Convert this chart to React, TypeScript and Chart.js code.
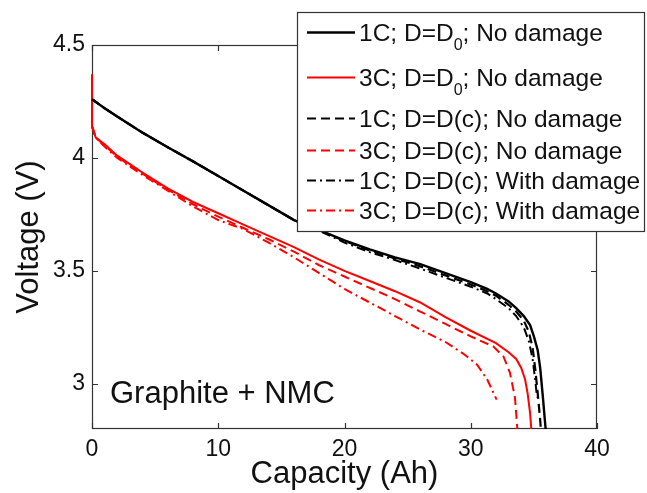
import React, { useEffect, useRef } from 'react';
import { Chart, registerables } from 'chart.js';

Chart.register(...registerables);

// ---- Data ----
const cap1CD0 = [0, 1, 2, 4, 6, 8, 10, 12, 14, 16, 18, 20, 22, 24, 26, 28, 30, 31.3, 32, 33, 33.6, 34.2, 34.7, 35.0, 35.3, 35.5, 35.7, 35.9, 36.0];
const volt1CD0 = [4.26, 4.22, 4.183, 4.112, 4.047, 3.985, 3.92, 3.855, 3.79, 3.725, 3.68, 3.635, 3.595, 3.56, 3.53, 3.49, 3.45, 3.42, 3.40, 3.365, 3.335, 3.30, 3.26, 3.21, 3.15, 3.07, 2.95, 2.82, 2.76];

const cap3CD0 = [0, 0, 0.3, 1, 2, 4, 6, 8, 10, 12, 14, 16, 18, 20, 22, 24, 26, 28, 30, 32, 33, 33.6, 34.0, 34.3, 34.5, 34.7, 34.85];
const volt3CD0 = [4.37, 4.14, 4.09, 4.06, 4.01, 3.935, 3.865, 3.805, 3.755, 3.705, 3.655, 3.605, 3.55, 3.5, 3.455, 3.41, 3.36, 3.295, 3.235, 3.18, 3.14, 3.11, 3.07, 3.02, 2.96, 2.87, 2.76];

const cap1CDc = [0, 1, 2, 4, 6, 8, 10, 12, 14, 16, 18, 20, 22, 24, 26, 28, 30, 31.3, 32, 33, 33.6, 34.2, 34.6, 34.9, 35.1, 35.3, 35.5, 35.6];
const volt1CDc = [4.26, 4.22, 4.183, 4.112, 4.047, 3.985, 3.92, 3.855, 3.79, 3.725, 3.68, 3.633, 3.59, 3.555, 3.52, 3.48, 3.44, 3.41, 3.39, 3.35, 3.32, 3.28, 3.23, 3.16, 3.07, 2.96, 2.84, 2.76];

const cap3CDc = [0, 0.3, 1, 2, 4, 6, 8, 10, 12, 14, 16, 18, 20, 22, 24, 26, 28, 30, 31.8, 32.6, 33.1, 33.5, 33.75];
const volt3CDc = [4.14, 4.09, 4.055, 4.005, 3.93, 3.86, 3.795, 3.74, 3.69, 3.64, 3.585, 3.525, 3.475, 3.425, 3.375, 3.32, 3.265, 3.21, 3.165, 3.12, 3.05, 2.94, 2.76];

const cap1CDcDmg = [0, 1, 2, 4, 6, 8, 10, 12, 14, 16, 18, 20, 22, 24, 26, 28, 30, 31.3, 32, 33, 33.6, 34.2, 34.6, 34.9, 35.1, 35.25];
const volt1CDcDmg = [4.26, 4.22, 4.183, 4.112, 4.047, 3.985, 3.92, 3.855, 3.79, 3.725, 3.678, 3.625, 3.583, 3.548, 3.51, 3.47, 3.43, 3.40, 3.375, 3.335, 3.30, 3.25, 3.19, 3.11, 3.02, 2.94];

const cap3CDcDmg = [0, 0.3, 1, 2, 4, 6, 8, 10, 12, 14, 16, 18, 20, 22, 24, 26, 28, 29.5, 30.5, 31.3, 31.8, 32.05];
const volt3CDcDmg = [4.14, 4.09, 4.05, 4.0, 3.925, 3.855, 3.785, 3.725, 3.685, 3.625, 3.56, 3.49, 3.42, 3.36, 3.3, 3.24, 3.185, 3.13, 3.085, 3.02, 2.96, 2.93];

const xTicks = [0, 10, 20, 30, 40];
const yTicks = [3, 3.5, 4, 4.5];

const FONT = '"Liberation Sans", Arial, Helvetica, sans-serif';

type Seg = { text: string; sub?: boolean };
const legendRows: Seg[][] = [
  [{ text: '1C; D=D' }, { text: '0', sub: true }, { text: '; No damage' }],
  [{ text: '3C; D=D' }, { text: '0', sub: true }, { text: '; No damage' }],
  [{ text: '1C; D=D(c); No damage' }],
  [{ text: '3C; D=D(c); No damage' }],
  [{ text: '1C; D=D(c); With damage' }],
  [{ text: '3C; D=D(c); With damage' }],
];
const legendRowY = [32, 77, 118, 150, 180, 210];
const annotation = 'Graphite + NMC';

const BLACK = '#000000';
const RED = '#ff0000';
const DASH = [9, 5];
const DASHDOT = [9, 4, 2, 4];

function pts(c: number[], v: number[]) {
  return c.map((x, i) => ({ x, y: v[i] }));
}

const framePlugin = {
  id: 'frameAndLegend',
  beforeDatasetsDraw(chart: any) {
    const { ctx, chartArea, scales } = chart;
    const { left, right, top, bottom } = chartArea;
    const xs = scales.x;
    const ys = scales.y;
    ctx.save();
    ctx.strokeStyle = '#333';
    ctx.lineWidth = 1.2;
    ctx.setLineDash([]);
    ctx.strokeRect(left + 0.5, top + 0.5, right - left - 1, bottom - top - 1);
    const tl = 6;
    ctx.beginPath();
    xTicks.forEach((v) => {
      const px = Math.round(xs.getPixelForValue(v)) + 0.5;
      ctx.moveTo(px, bottom);
      ctx.lineTo(px, bottom - tl);
      ctx.moveTo(px, top);
      ctx.lineTo(px, top + tl);
    });
    yTicks.forEach((v) => {
      const py = Math.round(ys.getPixelForValue(v)) + 0.5;
      ctx.moveTo(left, py);
      ctx.lineTo(left + tl, py);
      ctx.moveTo(right, py);
      ctx.lineTo(right - tl, py);
    });
    ctx.stroke();
    ctx.restore();
  },
  afterDatasetsDraw(chart: any) {
    const { ctx, chartArea } = chart;
    const { left, bottom } = chartArea;
    ctx.save();
    // annotation
    ctx.fillStyle = '#111';
    ctx.font = `31px ${FONT}`;
    ctx.textBaseline = 'alphabetic';
    ctx.textAlign = 'left';
    ctx.fillText(annotation, left + 18, bottom - 26);

    // legend box
    const bx = 297, by = 12, bw = 348, bh = 220;
    ctx.fillStyle = '#fff';
    ctx.fillRect(bx, by, bw, bh);
    ctx.strokeStyle = '#333';
    ctx.lineWidth = 1.2;
    ctx.strokeRect(bx + 0.5, by + 0.5, bw - 1, bh - 1);

    const datasets = chart.data.datasets;
    legendRows.forEach((row, i) => {
      const ds = datasets[i];
      const y = legendRowY[i];
      ctx.save();
      ctx.strokeStyle = ds.borderColor;
      ctx.lineWidth = ds.borderWidth;
      ctx.setLineDash(ds.borderDash || []);
      ctx.beginPath();
      ctx.moveTo(307, y + 0.5);
      ctx.lineTo(355, y + 0.5);
      ctx.stroke();
      ctx.restore();

      let tx = 359;
      ctx.fillStyle = '#111';
      row.forEach((seg) => {
        if (seg.sub) {
          ctx.font = `16px ${FONT}`;
          ctx.fillText(seg.text, tx, y + 18);
        } else {
          ctx.font = `24.5px ${FONT}`;
          ctx.fillText(seg.text, tx, y + 9);
        }
        tx += ctx.measureText(seg.text).width;
      });
    });
    ctx.restore();
  },
};

export default function App() {
  const ref = useRef<HTMLCanvasElement | null>(null);

  useEffect(() => {
    if (!ref.current) return;
    const common = { pointRadius: 0, fill: false, tension: 0, clip: { left: 3, top: 3, right: 3, bottom: 0 } };
    const chart = new Chart(ref.current, {
      type: 'line',
      data: {
        datasets: [
          { label: '1C; D=D0; No damage', data: pts(cap1CD0, volt1CD0), borderColor: BLACK, borderWidth: 2.4, borderDash: [], ...common },
          { label: '3C; D=D0; No damage', data: pts(cap3CD0, volt3CD0), borderColor: RED, borderWidth: 2, borderDash: [], ...common },
          { label: '1C; D=D(c); No damage', data: pts(cap1CDc, volt1CDc), borderColor: BLACK, borderWidth: 2.2, borderDash: DASH, ...common },
          { label: '3C; D=D(c); No damage', data: pts(cap3CDc, volt3CDc), borderColor: RED, borderWidth: 2, borderDash: DASH, ...common },
          { label: '1C; D=D(c); With damage', data: pts(cap1CDcDmg, volt1CDcDmg), borderColor: BLACK, borderWidth: 2, borderDash: DASHDOT, ...common },
          { label: '3C; D=D(c); With damage', data: pts(cap3CDcDmg, volt3CDcDmg), borderColor: RED, borderWidth: 2, borderDash: DASHDOT, ...common },
        ],
      },
      options: {
        responsive: false,
        animation: false,
        events: [],
        layout: { padding: { top: 45, right: 50, left: 0, bottom: 0 } },
        plugins: {
          legend: { display: false },
          tooltip: { enabled: false },
        },
        scales: {
          x: {
            type: 'linear',
            min: 0,
            max: 40,
            grid: { display: false, drawTicks: false },
            border: { display: false },
            afterBuildTicks: (s: any) => { s.ticks = xTicks.map((v) => ({ value: v })); },
            afterFit: (s: any) => { s.height = 64; },
            ticks: {
              font: { family: FONT, size: 23 },
              color: '#111',
              padding: 7,
              maxRotation: 0,
              callback: (v: any) => String(v),
            },
            title: {
              display: true,
              text: 'Capacity (Ah)',
              font: { family: FONT, size: 31 },
              color: '#111',
              padding: { top: 0, bottom: 0 },
            },
          },
          y: {
            type: 'linear',
            min: 2.8,
            max: 4.5,
            grid: { display: false, drawTicks: false },
            border: { display: false },
            afterBuildTicks: (s: any) => { s.ticks = yTicks.map((v) => ({ value: v })); },
            afterFit: (s: any) => { s.width = 92; },
            ticks: {
              font: { family: FONT, size: 23 },
              color: '#111',
              padding: 7,
              callback: (v: any) => String(v),
            },
            title: {
              display: true,
              text: 'Voltage (V)',
              font: { family: FONT, size: 31 },
              color: '#111',
              padding: { top: 11, bottom: 0 },
            },
          },
        },
      },
      plugins: [framePlugin],
    } as any);
    return () => chart.destroy();
  }, []);

  return (
    <div style={{ position: 'absolute', left: 0, top: 0, width: 647, height: 493, background: '#fff' }}>
      <canvas ref={ref} width={647} height={493} style={{ display: 'block' }} />
    </div>
  );
}
